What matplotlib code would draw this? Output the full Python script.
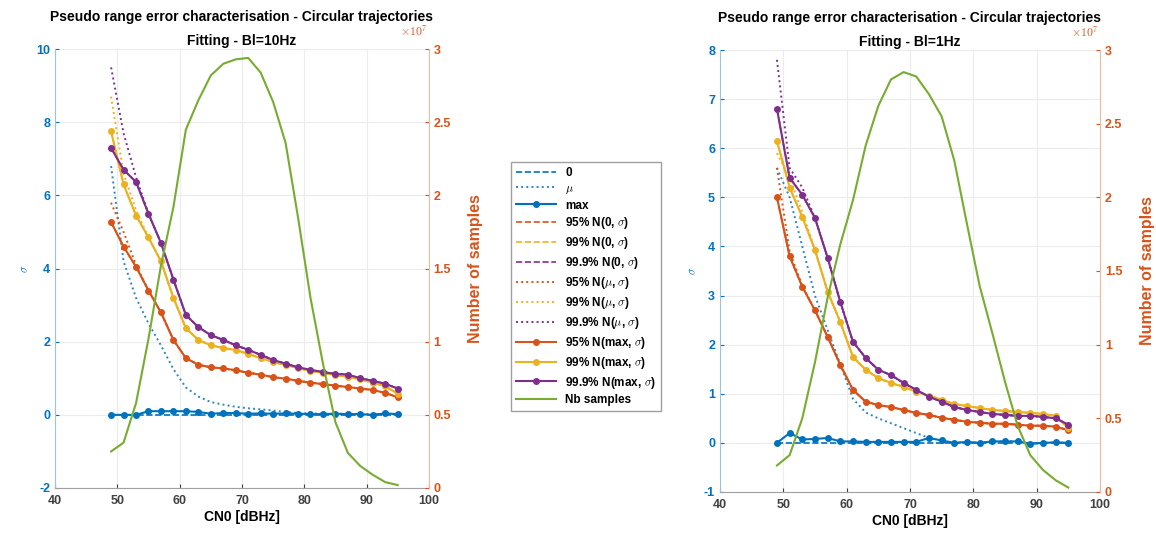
import numpy as np
import matplotlib
matplotlib.use('Agg')
import matplotlib.pyplot as plt
from matplotlib.ticker import FuncFormatter

plt.rcParams['font.family'] = ['Liberation Sans', 'DejaVu Sans']
plt.rcParams['font.weight'] = 'bold'
plt.rcParams['axes.labelweight'] = 'bold'
plt.rcParams['axes.unicode_minus'] = False
plt.rcParams['mathtext.fontset'] = 'cm'

# CN0 grid [dBHz]
cn0 = list(range(49, 97, 2))

# ---- Bl = 10 Hz ----
max_10 = [0, 0, 0, 0.1, 0.1, 0.1, 0.1, 0.08, 0.03, 0.05, 0.05, 0.03, 0.04, 0.03,
          0.04, 0.03, 0.02, 0.02, 0.03, 0.02, 0.02, 0.0, 0.04, 0.02]
mu_10 = [6.8, 4.2, 3.2, 2.5, 1.9, 1.25, 0.75, 0.5, 0.35, 0.28, 0.22, 0.18, 0.15,
         0.12, 0.08, 0.05, 0.04, 0.03, 0.03, 0.03, 0.02, 0.02, 0.03, 0.02]
p95_max_10 = [5.27, 4.6, 4.05, 3.4, 2.8, 2.05, 1.55, 1.37, 1.3, 1.27, 1.22, 1.15,
              1.1, 1.03, 0.99, 0.93, 0.88, 0.84, 0.8, 0.76, 0.72, 0.68, 0.6, 0.48]
p99_max_10 = [7.75, 6.3, 5.45, 4.85, 4.2, 3.2, 2.37, 2.05, 1.9, 1.83, 1.77, 1.67,
              1.55, 1.45, 1.36, 1.28, 1.2, 1.15, 1.09, 1.04, 0.97, 0.88, 0.78, 0.58]
p999_max_10 = [7.3, 6.7, 6.37, 5.5, 4.7, 3.7, 2.73, 2.4, 2.18, 2.05, 1.9, 1.78,
               1.64, 1.5, 1.4, 1.3, 1.23, 1.17, 1.12, 1.1, 1.0, 0.93, 0.85, 0.72]
p95_mu_10 = [5.8, 5.0, 4.1, 3.4, 2.8, 2.05, 1.55, 1.37, 1.3, 1.27, 1.22, 1.15,
             1.1, 1.03, 0.99, 0.93, 0.88, 0.84, 0.8, 0.76, 0.72, 0.68, 0.6, 0.48]
p99_mu_10 = [8.7, 6.6, 5.6, 4.85, 4.2, 3.2, 2.37, 2.05, 1.9, 1.83, 1.77, 1.67,
             1.55, 1.45, 1.36, 1.28, 1.2, 1.15, 1.09, 1.04, 0.97, 0.88, 0.78, 0.58]
p999_mu_10 = [9.5, 7.7, 6.5, 5.5, 4.7, 3.7, 2.73, 2.4, 2.18, 2.05, 1.9, 1.78,
              1.64, 1.5, 1.4, 1.3, 1.23, 1.17, 1.12, 1.1, 1.0, 0.93, 0.85, 0.72]
nb_10 = [0.25e7, 0.31e7, 0.58e7, 1.02e7, 1.52e7, 1.92e7, 2.45e7, 2.65e7, 2.82e7,
         2.9e7, 2.93e7, 2.94e7, 2.84e7, 2.64e7, 2.36e7, 1.85e7, 1.3e7, 0.85e7,
         0.45e7, 0.24e7, 0.15e7, 0.09e7, 0.04e7, 0.02e7]

# ---- Bl = 1 Hz ----
max_1 = [0, 0.2, 0.07, 0.08, 0.1, 0.03, 0.03, 0.02, 0.02, 0.02, 0.02, 0.02,
         0.1, 0.05, 0.0, 0.02, 0.0, 0.03, 0.03, 0.03, -0.02, 0.0, 0.01, 0.0]
mu_1 = [5.6, 5.0, 4.0, 3.0, 2.3, 1.6, 0.9, 0.62, 0.5, 0.4, 0.3, 0.2, 0.1, 0.05,
        0.0, 0.02, 0.0, 0.03, 0.03, 0.03, -0.02, 0.0, 0.01, 0.0]
p95_max_1 = [5.0, 3.8, 3.18, 2.7, 2.16, 1.59, 1.08, 0.84, 0.77, 0.73, 0.67, 0.61,
             0.57, 0.51, 0.47, 0.43, 0.41, 0.39, 0.39, 0.37, 0.35, 0.35, 0.33, 0.26]
p99_max_1 = [6.15, 5.2, 4.6, 3.93, 3.08, 2.46, 1.75, 1.49, 1.32, 1.22, 1.14, 1.04,
             0.96, 0.88, 0.79, 0.75, 0.71, 0.67, 0.65, 0.63, 0.61, 0.59, 0.55, 0.3]
p999_max_1 = [6.8, 5.4, 5.05, 4.58, 3.77, 2.87, 2.06, 1.73, 1.49, 1.38, 1.22, 1.08,
              0.94, 0.84, 0.73, 0.67, 0.63, 0.59, 0.57, 0.55, 0.55, 0.53, 0.5, 0.37]
p95_mu_1 = [5.6, 3.9, 3.2, 2.7, 2.16, 1.59, 1.08, 0.84, 0.77, 0.73, 0.67, 0.61,
            0.57, 0.51, 0.47, 0.43, 0.41, 0.39, 0.39, 0.37, 0.35, 0.35, 0.33, 0.26]
p99_mu_1 = [5.9, 5.4, 4.7, 3.93, 3.08, 2.46, 1.75, 1.49, 1.32, 1.22, 1.14, 1.04,
            0.96, 0.88, 0.79, 0.75, 0.71, 0.67, 0.65, 0.63, 0.61, 0.59, 0.55, 0.3]
p999_mu_1 = [7.8, 5.6, 5.2, 4.58, 3.77, 2.87, 2.06, 1.73, 1.49, 1.38, 1.22, 1.08,
             0.94, 0.84, 0.73, 0.67, 0.63, 0.59, 0.57, 0.55, 0.55, 0.53, 0.5, 0.37]
nb_1 = [0.18e7, 0.25e7, 0.5e7, 0.88e7, 1.32e7, 1.68e7, 1.98e7, 2.35e7, 2.62e7,
        2.8e7, 2.85e7, 2.82e7, 2.7e7, 2.55e7, 2.25e7, 1.82e7, 1.4e7, 1.08e7,
        0.75e7, 0.45e7, 0.25e7, 0.15e7, 0.08e7, 0.03e7]

nb_ticks = [0, 0.5e7, 1e7, 1.5e7, 2e7, 2.5e7, 3e7]

c_blue = '#0072BD'
c_mu = '#2E86C1'
c_orange = '#D95319'
c_yellow = '#EDB120'
c_purple = '#7E2F8E'
c_green = '#77AC30'


def draw_panel(ax, title1, title2, mx, mu, p95, p99, p999, p95m, p99m, p999m, nb,
               ylim, yticks):
    zero = [0] * len(cn0)
    ax.plot(cn0, zero, '--', color=c_blue, lw=1.2, label='0')
    ax.plot(cn0, mu, ':', color=c_mu, lw=1.4, label=r'$\mu$')
    ax.plot(cn0, mx, '-o', color=c_blue, lw=1.5, ms=4, label='max')
    # N(0, sigma) curves sit under N(max, sigma) since max ~ 0
    ax.plot(cn0, p95, '--', color=c_orange, lw=1.2, label=r'95% N(0, $\sigma$)')
    ax.plot(cn0, p99, '--', color=c_yellow, lw=1.2, label=r'99% N(0, $\sigma$)')
    ax.plot(cn0, p999, '--', color=c_purple, lw=1.2, label=r'99.9% N(0, $\sigma$)')
    ax.plot(cn0, p95m, ':', color=c_orange, lw=1.4, label=r'95% N($\mu$, $\sigma$)')
    ax.plot(cn0, p99m, ':', color=c_yellow, lw=1.4, label=r'99% N($\mu$, $\sigma$)')
    ax.plot(cn0, p999m, ':', color=c_purple, lw=1.4, label=r'99.9% N($\mu$, $\sigma$)')
    ax.plot(cn0, p95, '-o', color=c_orange, lw=1.5, ms=4, label=r'95% N(max, $\sigma$)')
    ax.plot(cn0, p99, '-o', color=c_yellow, lw=1.5, ms=4, label=r'99% N(max, $\sigma$)')
    ax.plot(cn0, p999, '-o', color=c_purple, lw=1.5, ms=4, label=r'99.9% N(max, $\sigma$)')
    ax.set_xlim(40, 100)
    ax.set_ylim(*ylim)
    ax.set_yticks(yticks)
    ax.set_xticks(range(40, 101, 10))
    ax.grid(True, color='#ececec', lw=0.8)
    ax.set_axisbelow(True)
    ax.set_xlabel('CN0 [dBHz]', fontsize=10, labelpad=2)
    ax.set_ylabel(r'$\sigma$', color=c_blue, fontsize=8)
    # two title lines as separate texts
    ax.set_title(title2, fontsize=10, fontweight='bold', y=1.0, pad=3)
    ax.annotate(title1, xy=(0.5, 1.0), xycoords='axes fraction', xytext=(0, 20),
                textcoords='offset points', ha='center', va='baseline',
                fontsize=10, fontweight='bold')
    ax.tick_params(axis='y', colors=c_blue, labelsize=9, direction='in', length=3)
    ax.tick_params(axis='x', colors='#404040', labelsize=9, direction='in', length=3,
                   pad=5)
    ax.spines['left'].set_color('#9cc3e0')
    ax.spines['bottom'].set_color('#a0a0a0')
    ax.spines['top'].set_visible(False)
    ax.spines['right'].set_visible(False)

    ax2 = ax.twinx()
    ax2.plot(cn0, nb, '-', color=c_green, lw=1.5, label='Nb samples')
    ax2.set_ylim(0, 3e7)
    ax2.set_yticks(nb_ticks)
    ax2.yaxis.set_major_formatter(FuncFormatter(lambda v, p: '%g' % (v / 1e7)))
    ax2.annotate(r'$\mathsf{\times10^7}$', xy=(1.0, 1.0), xycoords='axes fraction',
                 xytext=(-1, 7), textcoords='offset points', ha='right',
                 va='bottom', color=c_orange, fontsize=8.5)
    ax2.tick_params(axis='y', colors=c_orange, labelsize=9, direction='in', length=3)
    ax2.spines['right'].set_color('#f0b8a0')
    ax2.spines['top'].set_visible(False)
    ax2.spines['left'].set_visible(False)
    ax2.spines['bottom'].set_visible(False)
    ax2.set_ylabel('Number of samples', color=c_orange, fontsize=11.5)
    ax2.yaxis.set_label_coords(1.105, 0.5)
    return ax2


fig = plt.figure(figsize=(11.56, 5.4), dpi=100)
ax_l = fig.add_axes([0.0476, 0.0963, 0.3234, 0.8127])
ax_r = fig.add_axes([0.6228, 0.0889, 0.3287, 0.8185])

title1 = 'Pseudo range error characterisation - Circular trajectories'

ax_l2 = draw_panel(ax_l, title1, 'Fitting - Bl=10Hz', max_10, mu_10, p95_max_10,
                   p99_max_10, p999_max_10, p95_mu_10, p99_mu_10, p999_mu_10, nb_10,
                   (-2, 10), range(-2, 11, 2))
ax_r2 = draw_panel(ax_r, title1, 'Fitting - Bl=1Hz', max_1, mu_1, p95_max_1,
                   p99_max_1, p999_max_1, p95_mu_1, p99_mu_1, p999_mu_1, nb_1,
                   (-1, 8), range(-1, 9, 1))

handles, labels = ax_l.get_legend_handles_labels()
h2, l2 = ax_l2.get_legend_handles_labels()
leg = fig.legend(handles + h2, labels + l2, loc='upper left',
                 bbox_to_anchor=(511 / 1156, 1 - 162 / 540), fontsize=8.5,
                 handlelength=3.4, labelspacing=0.33, borderaxespad=0.0,
                 fancybox=False, edgecolor='#a0a0a0', framealpha=1)

fig.savefig('out.png', dpi=100)
